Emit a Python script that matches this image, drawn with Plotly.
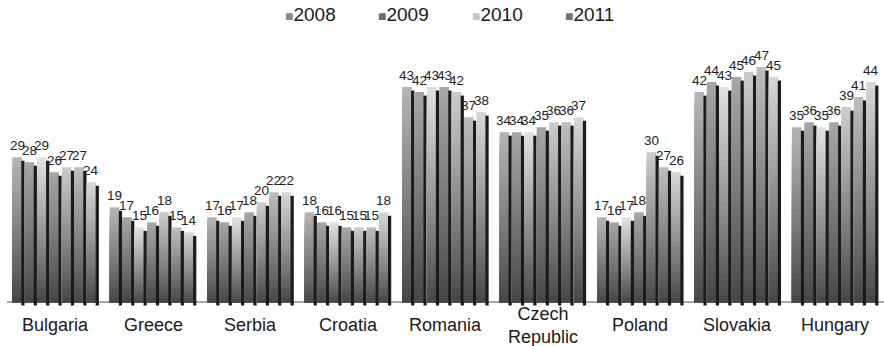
import plotly.graph_objects as go

# Countries along the x axis
COUNTRIES = ["Bulgaria", "Greece", "Serbia", "Croatia", "Romania",
             "Czech<br>Republic", "Poland", "Slovakia", "Hungary"]

# Legend labels
YEARS = ["2008", "2009", "2010", "2011"]

# Seven bars per country, left to right
BAR_1 = [29, 19, 17, 18, 43, 34, 17, 42, 35]
BAR_2 = [28, 17, 16, 16, 42, 34, 16, 44, 36]
BAR_3 = [29, 15, 17, 16, 43, 34, 17, 43, 35]
BAR_4 = [26, 16, 18, 15, 43, 35, 18, 45, 36]
BAR_5 = [27, 18, 20, 15, 42, 36, 30, 46, 39]
BAR_6 = [27, 15, 22, 15, 37, 36, 27, 47, 41]
BAR_7 = [24, 14, 22, 18, 38, 37, 26, 45, 44]
SERIES = [BAR_1, BAR_2, BAR_3, BAR_4, BAR_5, BAR_6, BAR_7]

# Gradient end colours (top, bottom) for each bar slot
TOP_COLORS = ["#b6b6b6", "#a6a6a6", "#e2e2e2", "#a8a8a8", "#cccccc", "#bebebe", "#d8d8d8"]
BOTTOM_COLOR = "#444444"
SWATCH_COLORS = ["#8a8a8a", "#6c6c6c", "#c6c6c6", "#737373"]
SHADOW_COLOR = "#1b1b1b"

FONT = "Liberation Sans, Arial, sans-serif"
N_SLICES = 30
GROUP_W = 0.89
SLOT_W = GROUP_W / len(SERIES)
FACE_W = 0.098
SHADOW_W = 0.033
SHADOW_DROP = 0.7
FOOT = 0.6


def hex_to_rgb(h):
    h = h.lstrip("#")
    return [int(h[i:i + 2], 16) for i in (0, 2, 4)]


def mix(c_top, c_bot, t):
    a, b = hex_to_rgb(c_top), hex_to_rgb(c_bot)
    r = [round(b[i] + (a[i] - b[i]) * t) for i in range(3)]
    return "rgb(%d,%d,%d)" % tuple(r)


x_pos = list(range(len(COUNTRIES)))
fig = go.Figure()
annotations = []

for j, values in enumerate(SERIES):
    offset = -GROUP_W / 2 + j * SLOT_W
    # front face: nested bars from the full height down, each shorter one
    # painted on top with a darker tone, giving a vertical gradient
    for k in range(N_SLICES, 0, -1):
        frac = k / N_SLICES
        t = (k - 0.5) / N_SLICES
        fig.add_trace(go.Bar(
            x=x_pos,
            y=[v * frac for v in values],
            offset=offset, width=FACE_W,
            marker=dict(color=mix(TOP_COLORS[j], BOTTOM_COLOR, t ** 0.9), line=dict(width=0)),
            showlegend=False, hoverinfo="skip",
        ))
    # dark side edge
    fig.add_trace(go.Bar(
        x=x_pos,
        y=[v - SHADOW_DROP + FOOT for v in values],
        base=[-FOOT] * len(values),
        offset=offset + FACE_W - 0.006, width=SHADOW_W,
        marker=dict(color=SHADOW_COLOR, line=dict(width=0)),
        showlegend=False, hoverinfo="skip",
    ))
    # value labels
    for i, v in enumerate(values):
        annotations.append(dict(
            x=i + offset + FACE_W / 2, y=v, xref="x", yref="y",
            text=str(v), showarrow=False, yanchor="bottom", yshift=2,
            font=dict(family=FONT, size=13.5, color="#222222"),
        ))

# legend row along the top
LEG_X0 = 0.3147
LEG_STEP = 0.1066
for k, (name, col) in enumerate(zip(YEARS, SWATCH_COLORS)):
    annotations.append(dict(
        x=LEG_X0 + k * LEG_STEP, y=1.146, xref="paper", yref="paper",
        xanchor="left", yanchor="middle", showarrow=False,
        text="<span style='color:%s;font-size:14px'>■</span>%s" % (col, name),
        font=dict(family=FONT, size=19, color="#1a1a1a"),
    ))

# category labels
for i, c in enumerate(COUNTRIES):
    annotations.append(dict(
        x=i, y=0, xref="x", yref="y", text=c, showarrow=False,
        yanchor="middle", yshift=-23,
        font=dict(family=FONT, size=18, color="#1a1a1a"),
    ))

fig.update_layout(
    width=884, height=346,
    margin=dict(l=7, r=0, t=52, b=40),
    barmode="overlay",
    paper_bgcolor="white", plot_bgcolor="white",
    font=dict(family=FONT, color="#1a1a1a"),
    showlegend=False,
    xaxis=dict(range=[-0.5, len(COUNTRIES) - 0.5], showticklabels=False,
               showgrid=False, zeroline=False, showline=False, ticks=""),
    yaxis=dict(range=[-0.7, 50], showticklabels=False, showgrid=False,
               zeroline=True, zerolinecolor="#a9a9a9", zerolinewidth=2,
               showline=False, ticks=""),
    annotations=annotations,
)

fig.write_html("out.html")
